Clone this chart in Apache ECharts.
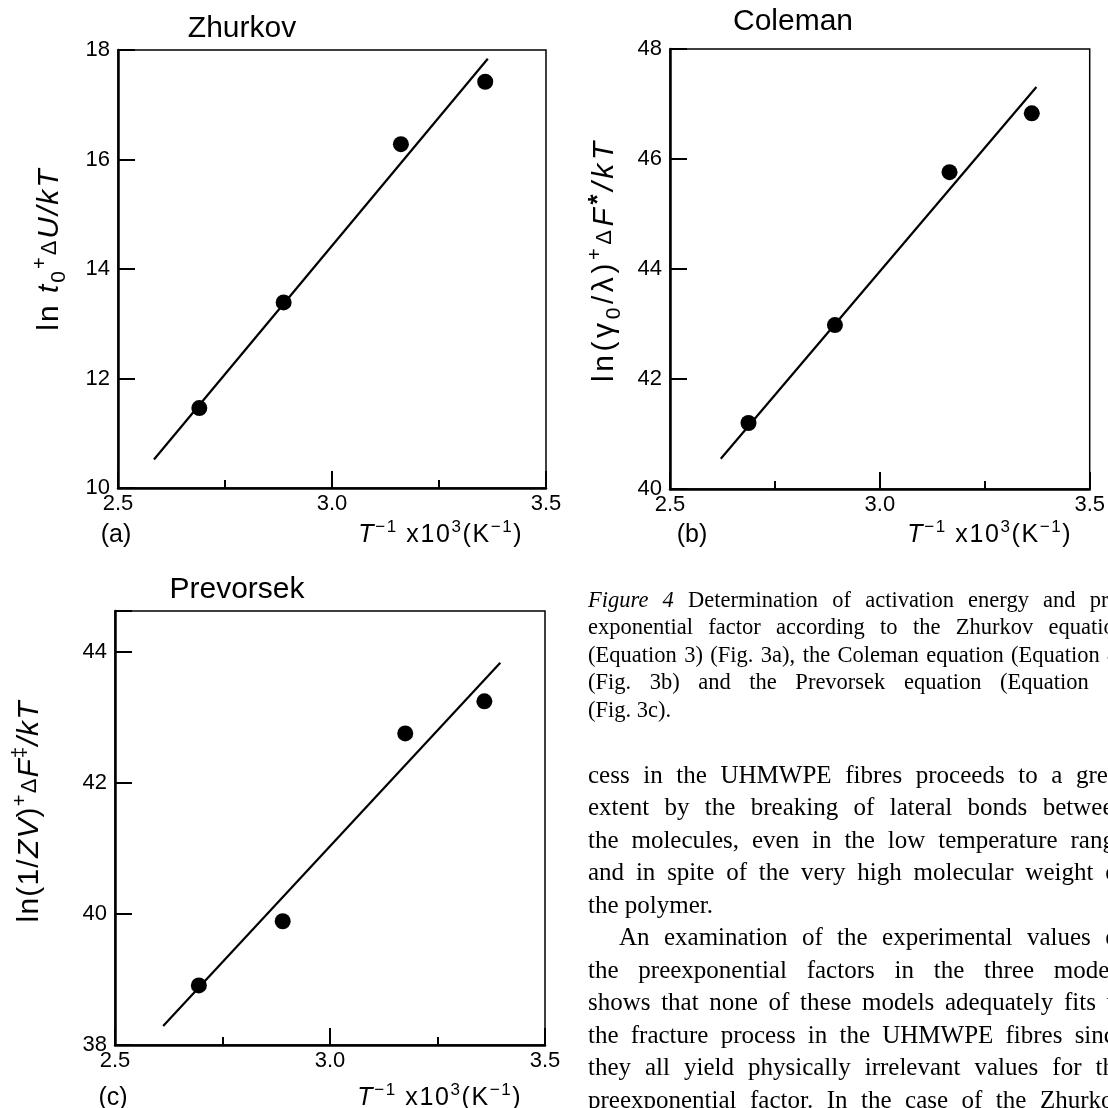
<!DOCTYPE html>
<html>
<head>
<meta charset="utf-8">
<script src="https://cdn.jsdelivr.net/npm/echarts@6/dist/echarts.min.js"></script>
<style>
  html, body { margin: 0; padding: 0; background: #fff; }
  #chart { width: 1108px; height: 1108px; }
</style>
</head>
<body>
<div id="chart"></div>
<script>
// ---- data: reciprocal temperature (x 10^3, K^-1) and model values ----
// (a) Zhurkov: ln t0 + dU/kT
const zhurkovX = [2.69, 2.887, 3.161, 3.358];
const zhurkovY = [11.46, 13.39, 16.28, 17.42];
const zhurkovFitX = [2.584, 3.364];
const zhurkovFitY = [10.52, 17.84];

// (b) Coleman: ln(gamma0/lambda) + dF*/kT
const colemanX = [2.687, 2.893, 3.166, 3.362];
const colemanY = [41.20, 42.98, 45.76, 46.83];
const colemanFitX = [2.621, 3.373];
const colemanFitY = [40.55, 47.31];

// (c) Prevorsek: ln(1/ZV) + dF‡/kT
const prevorsekX = [2.695, 2.890, 3.175, 3.359];
const prevorsekY = [38.91, 39.89, 42.76, 43.25];
const prevorsekFitX = [2.612, 3.396];
const prevorsekFitY = [38.29, 43.84];

// axis ranges
const xRange = [2.5, 3.5];
const zhurkovYRange = [10, 18];
const colemanYRange = [40, 48];
const prevorsekYRange = [38, 44.63];

// caption and running text of the right-hand column
const captionLines = [
  '_Figure _4 Determination of activation energy and pre-',
  'exponential factor according to the Zhurkov equation',
  '(Equation 3) (Fig. 3a), the Coleman equation (Equation 4)',
  '(Fig. 3b) and the Prevorsek equation (Equation 5)',
  '(Fig. 3c).'
];
const bodyLines = [
  'cess in the UHMWPE fibres proceeds to a great',
  'extent by the breaking of lateral bonds between',
  'the molecules, even in the low temperature range',
  'and in spite of the very high molecular weight of',
  'the polymer.',
  'An examination of the experimental values of',
  'the preexponential factors in the three models',
  'shows that none of these models adequately fits to',
  'the fracture process in the UHMWPE fibres since',
  'they all yield physically irrelevant values for the',
  'preexponential factor. In the case of the Zhurkov'
];

// ---- styling ----
const FIG_FONT = 'Liberation Sans';
const TXT_FONT = 'Liberation Serif';
const INK = '#000';

// rich styles for the rotated axis names; pad spreads the glyphs apart
function figRich(size, pad) {
  const p = [0, pad, 0, pad];
  const lh = Math.round(size * 1.3);
  const base = { fontFamily: FIG_FONT, color: INK, lineHeight: lh, padding: p };
  return {
    n:    Object.assign({}, base, { fontSize: size, verticalAlign: 'middle' }),
    i:    Object.assign({}, base, { fontSize: size, fontStyle: 'italic', verticalAlign: 'middle' }),
    sub:  Object.assign({}, base, { fontSize: Math.round(size * 0.7), verticalAlign: 'bottom' }),
    sup:  Object.assign({}, base, { fontSize: Math.round(size * 0.66), verticalAlign: 'top' }),
    star: Object.assign({}, base, { fontSize: Math.round(size * 0.85), fontWeight: 'bold', verticalAlign: 'top' }),
    d:    Object.assign({}, base, { fontSize: Math.round(size * 0.72), verticalAlign: 'middle' })
  };
}
// one rich token per glyph so the padding acts as letter spacing
function spaced(parts) {
  return parts.map(([st, s]) => Array.from(s).map(ch => '{' + st + '|' + ch + '}').join('')).join('');
}

const panels = [
  { grid: { left: 118, top: 50, width: 428, height: 438 }, yr: zhurkovYRange,
    x: zhurkovX, y: zhurkovY, fx: zhurkovFitX, fy: zhurkovFitY },
  { grid: { left: 670, top: 49, width: 427, height: 440 }, yr: colemanYRange,
    x: colemanX, y: colemanY, fx: colemanFitX, fy: colemanFitY },
  { grid: { left: 115, top: 611, width: 430, height: 434 }, yr: prevorsekYRange,
    x: prevorsekX, y: prevorsekY, fx: prevorsekFitX, fy: prevorsekFitY }
];

const tickFont = { fontFamily: FIG_FONT, fontSize: 22, color: INK };
const grids = [], xAxes = [], yAxes = [], series = [];
panels.forEach((p, k) => {
  grids.push(Object.assign({ show: true, borderColor: INK, borderWidth: 1.5, backgroundColor: 'transparent' }, p.grid));
  // fine ticks every 0.25
  xAxes.push({
    type: 'value', gridIndex: k, min: xRange[0], max: xRange[1], interval: 0.25, position: 'bottom',
    axisLine: { show: true, onZero: false, lineStyle: { color: INK, width: 2.5 } },
    axisTick: { show: true, inside: true, length: 8, lineStyle: { color: INK, width: 2 } },
    axisLabel: { show: false }, splitLine: { show: false }
  });
  // labelled ticks every 0.5
  xAxes.push({
    type: 'value', gridIndex: k, min: xRange[0], max: xRange[1], interval: 0.5, position: 'bottom',
    axisLine: { show: false },
    axisTick: { show: true, inside: true, length: 17, lineStyle: { color: INK, width: 2 } },
    axisLabel: Object.assign({ show: true, margin: 5, formatter: v => v.toFixed(1) }, tickFont),
    splitLine: { show: false }
  });
  yAxes.push({
    type: 'value', gridIndex: k, min: p.yr[0], max: p.yr[1], interval: 2,
    axisLine: { show: true, onZero: false, lineStyle: { color: INK, width: 2.5 } },
    axisTick: { show: true, inside: true, length: 17, lineStyle: { color: INK, width: 2 } },
    axisLabel: Object.assign({ margin: 8,
      formatter: v => (Math.abs(v / 2 - Math.round(v / 2)) < 1e-6 ? String(v) : '') }, tickFont),
    splitLine: { show: false }
  });
  series.push({
    type: 'line', xAxisIndex: 2 * k, yAxisIndex: k, symbol: 'none', silent: true,
    lineStyle: { color: INK, width: 2.2 },
    data: p.fx.map((v, j) => [v, p.fy[j]])
  });
  series.push({
    type: 'scatter', xAxisIndex: 2 * k, yAxisIndex: k, symbol: 'circle', symbolSize: 16, silent: true,
    itemStyle: { color: INK, opacity: 1 },
    data: p.x.map((v, j) => [v, p.y[j]])
  });
});

// ---- figure texts: titles, axis names, panel letters ----
const graphics = [];
function figText(x, y, text, opts) {
  graphics.push(Object.assign({
    type: 'text', x: x, y: y, silent: true,
    style: Object.assign({ text: text, fill: INK, textAlign: 'center', textVerticalAlign: 'middle',
                           align: 'center', verticalAlign: 'middle' }, opts.style || {})
  }, opts.el || {}));
}
const titleFont = '30px "' + FIG_FONT + '"';
figText(242, 29, 'Zhurkov', { style: { font: titleFont } });
figText(793, 22, 'Coleman', { style: { font: titleFont } });
figText(237, 590, 'Prevorsek', { style: { font: titleFont } });

const yNames = [
  [50, 250, 1.0, [['n', 'ln'], ['n', ' '], ['i', 't'], ['sub', '0'], ['sup', '+'], ['d', 'Δ'], ['i', 'U/kT']]],
  [605, 262, 1.8, [['n', 'ln(γ'], ['sub', '0'], ['n', '/λ)'], ['sup', '+'], ['d', 'Δ'], ['i', 'F'], ['star', '*'], ['i', '/kT']]],
  [30, 812, 0.6, [['n', 'ln(1/'], ['i', 'ZV'], ['n', ')'], ['sup', '+'], ['d', 'Δ'], ['i', 'F'], ['sup', '‡'], ['i', '/kT']]]
];
yNames.forEach(([x, y, pad, parts]) =>
  figText(x, y, spaced(parts), { style: { rich: figRich(30, pad) }, el: { rotation: Math.PI / 2 } }));

const xRich = figRich(25, 0.8);
const xNameText = spaced([['i', 'T'], ['sup', '−1'], ['n', ' x10'], ['sup', '3'], ['n', '(K'], ['sup', '−1'], ['n', ')']]);
figText(440, 535, xNameText, { style: { rich: xRich } });
figText(989, 535, xNameText, { style: { rich: xRich } });
figText(439, 1098, xNameText, { style: { rich: xRich } });

const letterFont = '25px "' + FIG_FONT + '"';
figText(116, 535, '(a)', { style: { font: letterFont } });
figText(692, 535, '(b)', { style: { font: letterFont } });
figText(113, 1098, '(c)', { style: { font: letterFont } });

// ---- justified serif column ----
const measure = document.createElement('canvas').getContext('2d');
function wordWidth(w, font) { measure.font = font; return measure.measureText(w).width; }

function setColumn(lines, opt) {
  lines.forEach((line, li) => {
    const y = opt.top + li * opt.step;
    const indent = (opt.indented || []).indexOf(li) >= 0 ? opt.indent : 0;
    const words = line.split(' ').map(w => {
      const it = w.startsWith('_');
      const text = it ? w.slice(1) : w;
      const font = (it ? 'italic ' : '') + opt.size + 'px "' + TXT_FONT + '"';
      return { text, font, w: wordWidth(text, font) };
    });
    const total = words.reduce((s, w) => s + w.w, 0);
    const last = (opt.ragged || []).indexOf(li) >= 0;
    const x0 = opt.left + indent;
    const gap = last || words.length < 2
      ? wordWidth(' ', opt.size + 'px "' + TXT_FONT + '"')
      : (opt.right - x0 - total) / (words.length - 1);
    let x = x0;
    words.forEach(w => {
      graphics.push({
        type: 'text', x: x, y: y, silent: true,
        style: { text: w.text, font: w.font, fill: INK, textAlign: 'left', align: 'left',
                 textVerticalAlign: 'middle', verticalAlign: 'middle' }
      });
      x += w.w + gap;
    });
  });
}
setColumn(captionLines, { left: 588, right: 1126, top: 601, step: 27.4, size: 22.5, ragged: [4] });
setColumn(bodyLines, { left: 588, right: 1126, top: 776, step: 32.5, size: 25,
                       ragged: [4], indented: [5], indent: 31 });

const chart = echarts.init(document.getElementById('chart'), null, { renderer: 'canvas' });
chart.setOption({
  backgroundColor: '#fff',
  animation: false,
  grid: grids,
  xAxis: xAxes,
  yAxis: yAxes,
  series: series,
  graphic: { elements: graphics }
});
</script>
</body>
</html>
